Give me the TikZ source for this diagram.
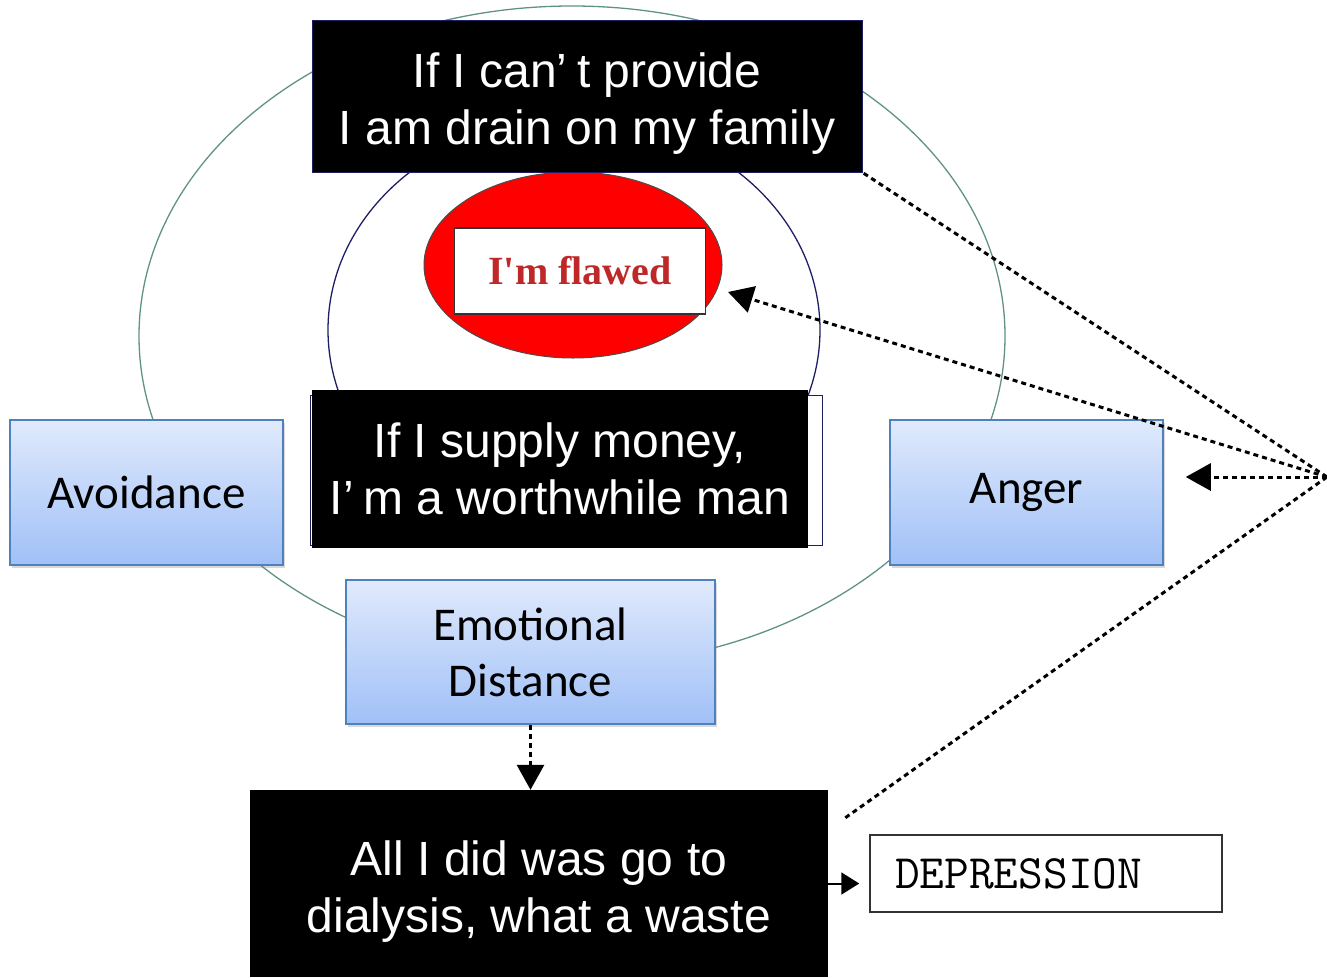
\documentclass[tikz,border=0pt]{standalone}
\usepackage{fontspec}
\setmainfont{Liberation Sans}
\newfontfamily\calfont{Carlito}
\newfontfamily\flawfont{Liberation Serif}
\usetikzlibrary{arrows.meta,positioning,shapes.geometric,shadows}
\definecolor{ringgreen}{RGB}{96,146,134}
\definecolor{ringnavy}{RGB}{30,30,100}
\definecolor{boxedge}{RGB}{79,129,189}
\definecolor{boxtop}{RGB}{224,234,252}
\definecolor{boxbottom}{RGB}{160,192,247}
\definecolor{flawred}{RGB}{190,40,40}

\begin{document}
\begin{tikzpicture}[
    x=1pt, y=-1pt,
    blackbox/.style={
        fill=black,
        text=white,
        align=center,
        inner sep=0pt,
        font=\fontsize{48}{57}\selectfont
    },
    boxtext/.style={
        text=white,
        align=center,
        inner sep=0pt,
        font=\fontsize{48}{57}\selectfont
    },
    bluebox/.style={
        draw=boxedge,
        line width=1.5pt,
        top color=boxtop,
        bottom color=boxbottom,
        align=center,
        inner sep=0pt,
        minimum width=273pt,
        minimum height=145pt,
        font=\calfont\fontsize{47}{56}\selectfont,
        drop shadow={opacity=0.3, shadow xshift=2pt, shadow yshift=-3pt}
    },
    ring/.style={line width=1.3pt},
    dotline/.style={dash pattern=on 5pt off 4pt, line width=3pt},
    dotarrow/.style={dotline, -{Triangle[length=25pt, width=27pt]}}
]
\useasboundingbox (0,0) rectangle (1327,977);

\draw[ring, ringgreen] (572,336) ellipse [x radius=433pt, y radius=330pt];
\draw[ring, ringnavy] (574,330) ellipse [x radius=246pt, y radius=212pt];

\node[ellipse, draw=black!70, fill=red, line width=1pt, minimum width=298pt, minimum height=186pt] (flawring) at (573,265) {};
\node[draw=black!80, fill=white, line width=1.2pt, minimum width=251pt, minimum height=86pt, text=flawred, font=\flawfont\bfseries\fontsize{40}{48}\selectfont] (flawed) at (580,271) {I'm flawed};

\node[draw=ringnavy, fill=white, line width=1pt, minimum width=512pt, minimum height=150pt] (moneyback) at (566,470) {};
\node[blackbox, minimum width=496pt, minimum height=158pt] (money) at (560,469) {If I supply money,\\I’\hspace{0.2em}m a worthwhile man};
\node[blackbox, draw=ringnavy, line width=1pt, minimum width=550pt, minimum height=152pt,
      label={[boxtext, yshift=-8pt]center:If I can’\hspace{0.2em}t provide\\ I am drain on my family}] (drain) at (587,96) {};
\node[blackbox, minimum width=578pt, minimum height=187pt,
      label={[boxtext, yshift=-8pt]center:All I did was go to\\dialysis, what a waste}] (waste) at (539,883.5) {};

\node[bluebox] (avoid) at (146.5,492.5) {Avoidance};
\node[bluebox] (anger) at (1026.5,492.5) {Anger};
\node[bluebox, minimum width=369pt, minimum height=144pt] (emo) at (530.5,652) {Emotional\\Distance};
\node[draw=black!80, line width=1.5pt, fill=white, minimum width=352pt, minimum height=77pt, text width=302pt, inner xsep=25pt, align=left, font=\ttfamily\fontsize{48}{55}\selectfont] (dep) at (1046,873.5) {DEPRESSION};

\coordinate (src) at (1327,477);
\coordinate (lowend) at (845,818);
\coordinate (flawtip) at (728,292);

\draw[dotline] (src) -- (drain.south east);
\draw[dotarrow] (src) -- (flawtip);
\draw[dotarrow, shorten >=22pt] (src) -- (src -| anger.east);
\draw[dotline] (src) -- (lowend);
\draw[dotarrow] (emo.south) -- (emo.south |- waste.north);
\draw[line width=2pt, -{Triangle[length=18pt, width=22pt]}, shorten >=10pt] (waste.east) -- (waste.east -| dep.west);
\end{tikzpicture}
\end{document}
